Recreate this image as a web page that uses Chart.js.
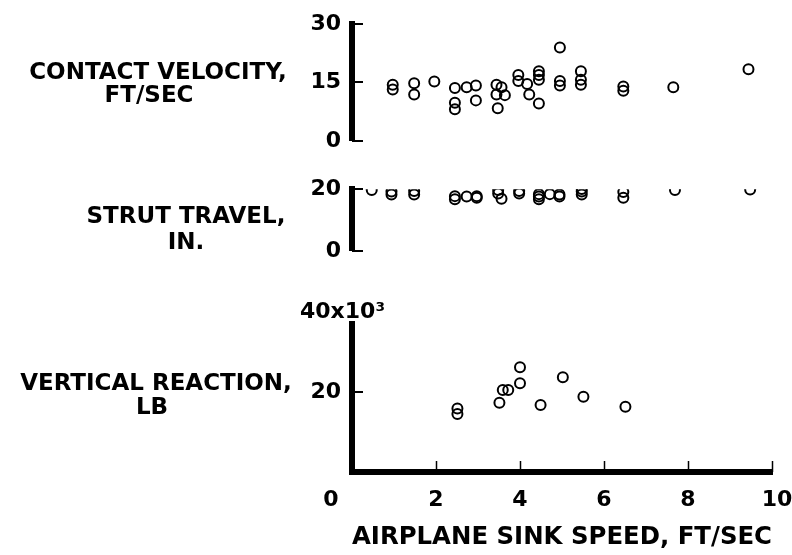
<!DOCTYPE html>
<html>
<head>
<meta charset="utf-8">
<script src="https://cdn.jsdelivr.net/npm/chart.js@4.4.1/dist/chart.umd.min.js"></script>
<style>
  html, body { margin: 0; background: #fff; }
  #wrap { position: relative; width: 792px; height: 555px; overflow: hidden; }
  canvas { position: absolute; left: 0; }
</style>
</head>
<body>
<div id="wrap">
  <canvas id="c-velocidad" style="top:0" width="792" height="165"></canvas>
  <canvas id="c-carrera" style="top:165px" width="792" height="110"></canvas>
  <canvas id="c-reaccion" style="top:275px" width="792" height="280"></canvas>
</div>
<script>
// ── DATOS ─────────────────────────────────────────────────────
// velocidad de contacto (ft/sec) vs velocidad de descenso
const sinkContacto = [0.97, 0.97, 1.48, 1.48, 1.96, 2.45, 2.45, 2.45, 2.73, 2.95, 2.95,
  3.44, 3.56, 3.44, 3.64, 3.47, 3.96, 3.96, 4.17, 4.22, 4.45, 4.45, 4.45, 4.45,
  4.95, 4.95, 4.95, 5.45, 5.45, 5.45, 6.46, 6.46, 7.65, 9.44];
const velocidadContacto = [14.4, 13.2, 14.8, 11.9, 15.25, 13.6, 9.8, 8.1, 13.75, 14.2, 10.4,
  14.4, 13.75, 11.9, 11.75, 8.4, 16.9, 15.4, 14.6, 11.9, 17.9, 16.9, 15.7, 9.6,
  24.0, 15.4, 14.25, 17.9, 15.7, 14.4, 14.0, 12.9, 13.75, 18.4];

// carrera del amortiguador (in.)
const sinkCarrera = [0.47, 0.94, 0.94, 1.48, 1.48, 2.45, 2.45, 2.73, 2.97, 2.97, 3.48, 3.48,
  3.56, 3.98, 3.98, 4.45, 4.45, 4.45, 4.71, 4.94, 4.94, 5.47, 5.47, 5.47, 6.46, 6.46,
  7.69, 9.48];
const carrera = [19.7, 19.25, 18.25, 19.4, 18.25, 17.75, 16.75, 17.6, 17.75, 17.2, 19.7, 18.6,
  16.9, 19.4, 18.6, 18.4, 17.6, 16.75, 18.4, 18.25, 17.6, 20.1, 19.25, 18.25, 19.1, 17.2,
  19.7, 19.9];

// reacción vertical (miles de lb)
const sinkReaccion = [2.51, 2.51, 3.51, 3.59, 3.72, 4.0, 4.0, 4.49, 5.02, 5.51, 6.51];
const reaccion = [15.9, 14.5, 17.3, 20.5, 20.5, 26.2, 22.2, 16.75, 23.7, 18.8, 16.3];

const ticksVelocidad = [0, 15, 30];
const ticksCarrera = [0, 20];
const ticksReaccion = [20];
const ticksSink = [0, 2, 4, 6, 8, 10];

// ── CONFIG GLOBAL ─────────────────────────────────────────────
Chart.defaults.font.family = '"DejaVu Sans"';
Chart.defaults.font.weight = 'bold';
Chart.defaults.color = '#000';
Chart.defaults.animation = false;

const AREA_IZQ = 352;   // borde izquierdo del área de datos
const AREA_DER = 20;    // margen derecho

const puntos = (xs, ys) => xs.map((x, i) => ({ x, y: ys[i] }));

// marcas hacia dentro, etiquetas del eje x y rótulos a la izquierda
const trazos = {
  id: 'trazos',
  afterDraw(chart, args, o) {
    const { ctx, chartArea: a } = chart;
    const y = chart.scales.y, x = chart.scales.x;
    ctx.save();
    ctx.strokeStyle = '#000';
    ctx.lineWidth = 2;
    (o.yMarcas || []).forEach(v => {
      const py = Math.round(y.getPixelForValue(v));
      ctx.beginPath();
      ctx.moveTo(a.left, py);
      ctx.lineTo(a.left + 11, py);
      ctx.stroke();
    });
    ctx.lineWidth = 1.5;
    (o.xMarcas || []).forEach(v => {
      const px = Math.round(x.getPixelForValue(v)) + 0.5;
      ctx.beginPath();
      ctx.moveTo(px, a.bottom);
      ctx.lineTo(px, a.bottom - 11);
      ctx.stroke();
    });
    ctx.fillStyle = '#000';
    ctx.textBaseline = 'middle';
    ctx.textAlign = 'center';
    if (o.xEtiquetas) {
      ctx.font = 'bold 22px "DejaVu Sans"';
      const { dy, desplaza } = o.xEtiquetas;
      ticksSink.forEach(v => {
        ctx.fillText(String(v), x.getPixelForValue(v) + (desplaza[v] || 0), a.bottom + dy);
      });
    }
    ctx.font = 'bold 23px "DejaVu Sans"';
    (o.rotulo || []).forEach(([t, tx, ty]) => ctx.fillText(t, tx, ty));
    if (o.extra) {
      ctx.font = 'bold 22px "DejaVu Sans"';
      ctx.textAlign = 'left';
      ctx.fillText(o.extra.texto, o.extra.x, y.getPixelForValue(o.extra.valor));
    }
    ctx.restore();
  }
};

function crearPanel(canvasId, xs, ys, ejeY, ejeX, decor, padding) {
  const canvas = document.getElementById(canvasId);
  return new Chart(canvas.getContext('2d'), {
    type: 'scatter',
    data: {
      datasets: [{
        data: puntos(xs, ys),
        pointStyle: 'circle',
        pointRadius: 5,
        pointHoverRadius: 5,
        borderWidth: 2,
        borderColor: '#000',
        backgroundColor: 'rgba(0,0,0,0)',
      }],
    },
    options: {
      responsive: false,
      layout: { padding },
      plugins: { legend: { display: false }, tooltip: { enabled: false }, trazos: decor },
      scales: {
        x: {
          type: 'linear', min: 0, max: 10,
          display: !!ejeX,
          grid: { display: false, drawTicks: false },
          border: { display: !!ejeX, width: 6, color: '#000' },
          afterBuildTicks: s => { s.ticks = ticksSink.map(v => ({ value: v })); },
          afterFit: s => { if (ejeX) s.height = ejeX.alto; },
          ticks: { display: false },
          title: ejeX ? {
            display: true, text: ejeX.titulo,
            font: { size: 25, weight: 'bold' }, padding: { top: 4, bottom: 3 },
          } : { display: false },
        },
        y: {
          min: 0, max: ejeY.max,
          grid: { display: false, drawTicks: false },
          border: { display: true, width: 6, color: '#000' },
          afterBuildTicks: s => { s.ticks = ejeY.ticks.map(v => ({ value: v })); },
          afterFit: s => { s.width = AREA_IZQ; },
          ticks: { font: { size: 22, weight: 'bold' }, padding: 11 },
        },
      },
    },
    plugins: [trazos],
  });
}

// ── PANELES ───────────────────────────────────────────────────
crearPanel('c-velocidad', sinkContacto, velocidadContacto,
  { max: 30, ticks: ticksVelocidad }, null,
  {
    yMarcas: ticksVelocidad,
    rotulo: [['CONTACT VELOCITY,', 158, 73], ['FT/SEC', 149, 96]],
  },
  { top: 21, bottom: 24, left: 0, right: AREA_DER });

crearPanel('c-carrera', sinkCarrera, carrera,
  { max: 20, ticks: ticksCarrera }, null,
  {
    yMarcas: ticksCarrera,
    rotulo: [['STRUT TRAVEL,', 186, 52], ['IN.', 186, 78]],
  },
  { top: 22, bottom: 8, left: 0, right: AREA_DER });

crearPanel('c-reaccion', sinkReaccion, reaccion,
  { max: 37, ticks: ticksReaccion },
  { alto: 83, titulo: 'AIRPLANE SINK SPEED, FT/SEC' },
  {
    yMarcas: ticksReaccion,
    xMarcas: [2, 4, 6, 8, 10],
    xEtiquetas: { dy: 28, desplaza: { 0: -21, 10: 5 } },
    rotulo: [['VERTICAL REACTION,', 156, 109], ['LB', 152, 133]],
    extra: { texto: '40x10³', x: 300, valor: 40 },
  },
  { top: 49, bottom: 0, left: 0, right: AREA_DER });
</script>
</body>
</html>
